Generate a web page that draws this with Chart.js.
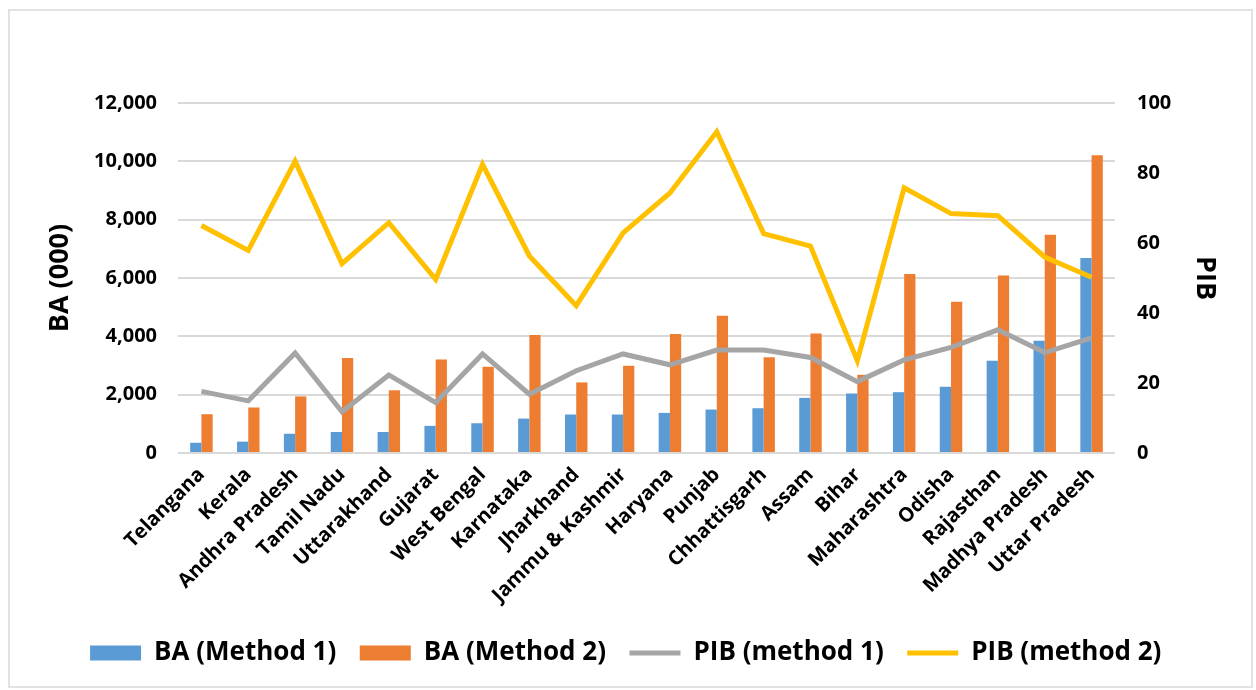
<!DOCTYPE html>
<html>
<head>
<meta charset="utf-8">
<script src="https://cdn.jsdelivr.net/npm/chart.js@4"></script>
<style>
  html, body { margin: 0; padding: 0; background: #fff; }
  #wrap { position: relative; width: 1256px; height: 690px; }
  #frame { position: absolute; left: 8px; top: 9px; width: 1241px; height: 675px;
           border: 2px solid #e2e2e2; pointer-events: none; }
</style>
</head>
<body>
<div id="wrap">
  <canvas id="chart" width="1256" height="690"></canvas>
  <div id="frame"></div>
</div>
<script>
// etats, tries par BA (methode 1)
var states = ["Telangana", "Kerala", "Andhra Pradesh", "Tamil Nadu", "Uttarakhand", "Gujarat",
  "West Bengal", "Karnataka", "Jharkhand", "Jammu & Kashmir", "Haryana", "Punjab",
  "Chhattisgarh", "Assam", "Bihar", "Maharashtra", "Odisha", "Rajasthan",
  "Madhya Pradesh", "Uttar Pradesh"];

// BA (000)
var baM1 = [350, 390, 660, 720, 720, 930, 1020, 1180, 1320, 1320, 1375, 1490,
  1535, 1890, 2040, 2085, 2270, 3160, 3850, 6690];
var baM2 = [1330, 1560, 1940, 3260, 2150, 3210, 2960, 4050, 2420, 2990, 4080, 4710,
  3280, 4100, 2680, 6140, 5190, 6090, 7480, 10210];

// PIB
var pibM1 = [17.6, 14.9, 28.6, 11.8, 22.3, 14.4, 28.3, 16.8, 23.5, 28.3, 25.2, 29.4,
  29.4, 27.3, 20.4, 26.6, 30.2, 35.2, 28.7, 32.9];
var pibM2 = [65.0, 57.9, 83.4, 54.1, 65.8, 49.6, 82.5, 56.3, 42.1, 62.9, 74.3, 91.8,
  62.7, 59.1, 26.4, 75.8, 68.4, 67.8, 56.0, 50.2];

var police = "'Open Sans'";
var grille = "#d9d9d9";

new Chart(document.getElementById("chart"), {
  type: 'bar',
  data: {
    labels: states,
    datasets: [
      { label: "BA (Method 1)", data: baM1, backgroundColor: "#5b9bd5", yAxisID: 'y', order: 1 },
      { label: "BA (Method 2)", data: baM2, backgroundColor: "#ed7d31", yAxisID: 'y', order: 1 },
      { type: 'line', label: "PIB (method 1)", data: pibM1, borderColor: "#a5a5a5", backgroundColor: "#a5a5a5",
        borderWidth: 5, pointRadius: 0, tension: 0, yAxisID: 'y1', order: 0 },
      { type: 'line', label: "PIB (method 2)", data: pibM2, borderColor: "#ffc000", backgroundColor: "#ffc000",
        borderWidth: 5, pointRadius: 0, tension: 0, yAxisID: 'y1', order: 0 }
    ]
  },
  options: {
    responsive: false,
    animation: false,
    categoryPercentage: 0.48,
    barPercentage: 1.0,
    layout: { padding: { left: 40, right: 31, top: 103, bottom: 14 } },
    plugins: {
      tooltip: { enabled: false },
      legend: {
        position: 'bottom',
        labels: {
          usePointStyle: true,
          pointStyleWidth: 51,
          boxHeight: 15,
          padding: 10,
          color: "#000",
          font: { family: police, size: 26, weight: 'bold' },
          sort: function(a, b) { return a.datasetIndex - b.datasetIndex; },
          generateLabels: function(chart) {
            var items = Chart.defaults.plugins.legend.labels.generateLabels(chart);
            items.forEach(function(it) {
              it.pointStyle = it.datasetIndex < 2 ? 'rect' : 'line';
              it.text = it.text + "  ";
            });
            return items;
          }
        }
      }
    },
    scales: {
      x: {
        grid: { display: false },
        border: { display: false },
        ticks: { color: "#000", maxRotation: 45, minRotation: 45, autoSkip: false, padding: 2,
                 font: { family: police, size: 20, weight: 'bold' } },
        afterFit: function(s) { s.height = 177; }
      },
      y: {
        position: 'left',
        min: 0, max: 12000,
        ticks: { stepSize: 2000, color: "#000", padding: 21,
                 font: { family: police, size: 20, weight: 'bold' },
                 callback: function(v) { return v.toLocaleString('en-US'); } },
        grid: { color: grille, lineWidth: 2, drawTicks: false },
        border: { display: false },
        title: { display: true, text: "BA (000)", color: "#000", padding: 4,
                 font: { family: police, size: 27, weight: 'bold' } },
        afterFit: function(s) { s.width = 138; }
      },
      y1: {
        position: 'right',
        min: 0, max: 100,
        ticks: { stepSize: 20, color: "#000", padding: 22,
                 font: { family: police, size: 20, weight: 'bold' } },
        grid: { display: false, drawTicks: false },
        border: { display: false },
        title: { display: true, text: "PIB", color: "#000", padding: 4,
                 font: { family: police, size: 27, weight: 'bold' } },
        afterFit: function(s) { s.width = 110; }
      }
    }
  }
});
</script>
</body>
</html>
